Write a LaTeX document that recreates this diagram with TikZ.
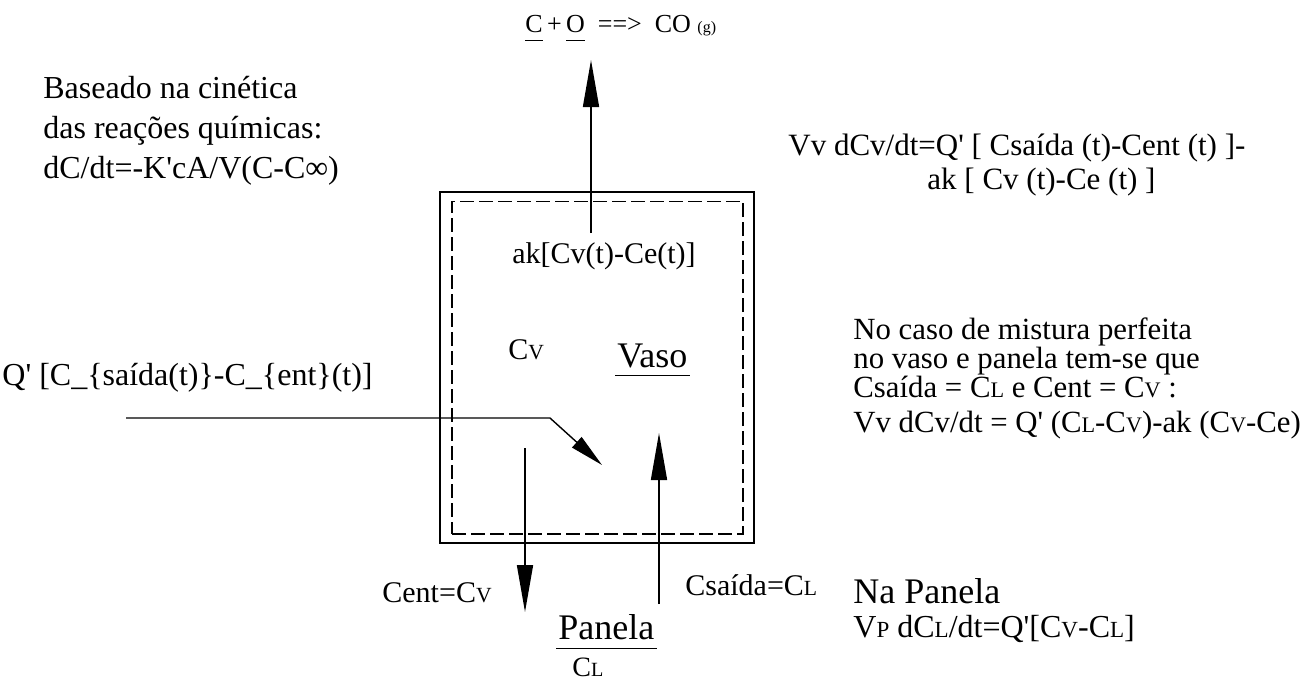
\documentclass[tikz,border=0pt]{standalone}
\usepackage{fontspec}
\setmainfont{Liberation Serif}
\usetikzlibrary{arrows.meta,positioning}
\newcommand{\sml}[1]{\scalebox{0.72}{#1}}
\newcommand{\qt}{\textquotesingle}

\begin{document}
\begin{tikzpicture}[
  x=0.5pt, y=-0.5pt,
  txt/.style={inner sep=0pt, anchor=base west, font=\fontsize{15}{18}\selectfont},
  big/.style={txt, font=\fontsize{18}{21}\selectfont},
  wall/.style={draw, line width=1pt, minimum width=157pt, minimum height=175.5pt, inner sep=0pt},
  lining/.style={draw, line width=0.8pt, dash pattern=on 7pt off 2.5pt, minimum width=145.5pt, minimum height=166.25pt, inner sep=0pt},
  arr/.style={-{Triangle[length=23.5pt,width=8pt]}, line width=0.8pt},
  arrd/.style={-{Triangle[length=17pt,width=7pt]}, line width=0.7pt}
]
\useasboundingbox (0,0) rectangle (1306,682);

% vessel
\node[wall] (vessel) at (597,367.5) {};
\node[lining] (lining) at (597.5,367.75) {};

% texts (multi-line nodes sit on their last line)
\node[txt, font=\fontsize{13}{15}\selectfont] (reac) at (525,32)
  {\underline{C\vphantom{p}}\,+\,\underline{O\vphantom{p}}\ \ ==>\ \ CO {\fontsize{8}{9}\selectfont(g)}};
\node[txt, align=left, font=\fontsize{16}{20}\selectfont] (kinet) at (43,178)
  {Baseado na cinética\\das reações químicas:\\dC/dt=-K\qt cA/V(C-C∞)};
\node[txt, font=\fontsize{15.5}{18}\selectfont] (eqv) at (788,155)
  {Vv dCv/dt=Q\qt{} [ Csaída (t)-Cent (t) ]-};
\node[txt, font=\fontsize{15.5}{18}\selectfont] (eqv2) at (927,189)
  {ak [ Cv (t)-Ce (t) ]};
\node[txt, font=\fontsize{16}{19}\selectfont] (qlabel) at (2,385)
  {Q\qt{} [C\_\{saída(t)\}-C\_\{ent\}(t)]};
\node[txt] (ak) at (512,263) {ak[Cv(t)-Ce(t)]};
\node[txt] (cv) at (508,359) {C\sml{V}};
\node[big, text depth=4pt, inner xsep=1pt] (vaso) at (615,367) {Vaso};
\node[big, text depth=4.5pt, inner xsep=1pt] (panela) at (556,639) {Panela};
\node[txt, font=\fontsize{14}{16}\selectfont] (cl) at (572,676) {C\sml{L}};
\node[txt, anchor=base east] (cent) at (492,602) {Cent=C\sml{V}};
\node[txt] (csaida) at (685,595) {Csaída=C\sml{L}};
\node[big] (napanela) at (853,603) {Na Panela};
\node[txt, font=\fontsize{16}{19}\selectfont] (eqp) at (853,637)
  {V\sml{P} dC\sml{L}/dt=Q\qt[C\sml{V}-C\sml{L}]};
\node[txt, align=left, font=\fontsize{15.4}{14.5}\selectfont] (mix) at (853,397)
  {No caso de mistura perfeita\\no vaso e panela tem-se que\\Csaída = C\sml{L} e Cent = C\sml{V} :};
\node[txt, font=\fontsize{15.4}{18}\selectfont] (eqmix) at (853,432)
  {Vv dCv/dt = Q\qt{} (C\sml{L}-C\sml{V})-ak (C\sml{V}-Ce)};

\draw (vaso.south west) -- (vaso.south east);
\draw (panela.south west) -- (panela.south east);

% flows
\coordinate (coBot) at (591,233);
\coordinate (coTip) at (591,60);
\coordinate (qIn) at (126,418);
\coordinate (qBend) at (550,418);
\coordinate (qTip) at (602,465);
\coordinate (entTop) at (525,448);
\coordinate (entTip) at (525,612);
\coordinate (saiBot) at (659,604);
\coordinate (saiTip) at (659,433);
\draw[arr] (coBot) -- (coTip);
\draw[arrd] (qIn) -- (qBend) -- (qTip);
\draw[arr] (entTop) -- (entTip);
\draw[arr] (saiBot) -- (saiTip);
\end{tikzpicture}
\end{document}
